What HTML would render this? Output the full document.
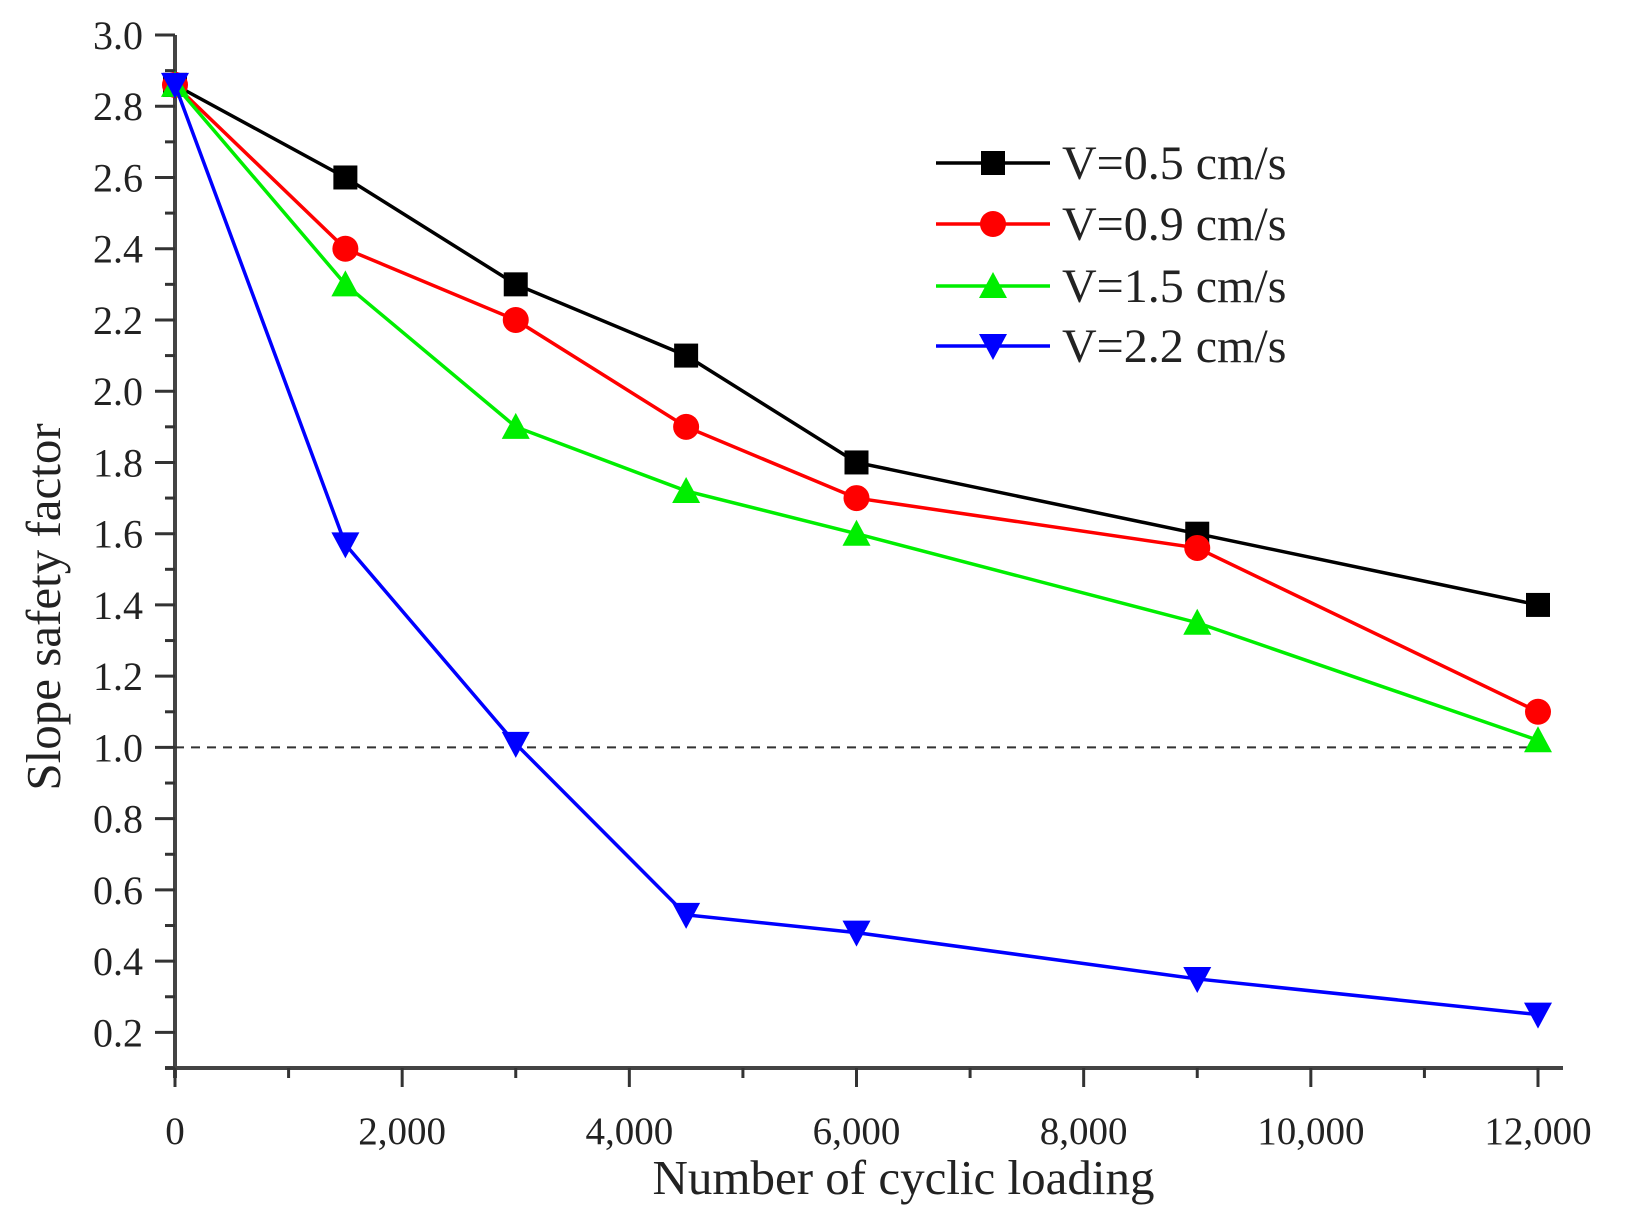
<!DOCTYPE html>
<html><head><meta charset="utf-8"><style>
html,body{margin:0;padding:0;background:#fff;}
svg text{font-family:"Liberation Serif",serif;fill:#222;}
</style></head><body>
<svg id="chart" width="1628" height="1227" viewBox="0 0 1628 1227" xmlns="http://www.w3.org/2000/svg">
<g id="grid"></g>
<g id="axes"></g>
<g id="series"></g>
<g id="legend"></g>
</svg>
<script>
const xValues = [0, 1500, 3000, 4500, 6000, 9000, 12000];
const seriesNames = ["V=0.5 cm/s", "V=0.9 cm/s", "V=1.5 cm/s", "V=2.2 cm/s"];
const v05 = [2.86, 2.6, 2.3, 2.1, 1.8, 1.6, 1.4];
const v09 = [2.86, 2.4, 2.2, 1.9, 1.7, 1.56, 1.1];
const v15 = [2.86, 2.3, 1.9, 1.72, 1.6, 1.35, 1.02];
const v22 = [2.86, 1.57, 1.01, 0.53, 0.48, 0.35, 0.25];
const yTickLabels = ["0.2","0.4","0.6","0.8","1.0","1.2","1.4","1.6","1.8","2.0","2.2","2.4","2.6","2.8","3.0"];
const xTickLabels = ["0","2,000","4,000","6,000","8,000","10,000","12,000"];
const referenceLevel = 1.0;

const NS="http://www.w3.org/2000/svg";
const X0=175, XPER=(1538-175)/12000, YTOP=35, YPER=(1068-35)/2.9;
function xs(v){return X0+v*XPER;}
function ys(v){return YTOP+(3.0-v)*YPER;}
function mk(tag,attrs,parent){const e=document.createElementNS(NS,tag);for(const k in attrs)e.setAttribute(k,attrs[k]);parent.appendChild(e);return e;}
const axes=document.getElementById('axes'), ser=document.getElementById('series'), leg=document.getElementById('legend');

let a=mk('line',{x1:X0,y1:YTOP,x2:X0,y2:1078,stroke:'#444','stroke-width':4},axes);


a=mk('line',{x1:X0-10,y1:1068,x2:1563,y2:1068,stroke:'#444','stroke-width':4},axes);



for(let i=0;i<yTickLabels.length;i++){
  const v=parseFloat(yTickLabels[i]), y=ys(v);
  let t=mk('line',{x1:X0-20,y1:y,x2:X0,y2:y,stroke:'#333','stroke-width':3},axes);
  
  
  let m=mk('line',{x1:X0-10,y1:ys(v-0.1),x2:X0,y2:ys(v-0.1),stroke:'#333','stroke-width':3},axes);
  
  
  let l=mk('text',{x:143,y:y+14,'text-anchor':'end','font-size':40},axes);
  l.textContent=yTickLabels[i];
  
  
}
for(let i=0;i<xTickLabels.length;i++){
  const v=i*2000, x=xs(v);
  let t=mk('line',{x1:x,y1:1068,x2:x,y2:1087,stroke:'#333','stroke-width':3},axes);
  
  
  let m=mk('line',{x1:xs(v+1000),y1:1068,x2:xs(v+1000),y2:1078,stroke:'#333','stroke-width':3},axes);
  
  
  let l=mk('text',{x:x,y:1144,'text-anchor':'middle','font-size':39},axes);
  l.textContent=xTickLabels[i];
  
  
}
let xt=mk('text',{x:xs(6000)+47,y:1194,'text-anchor':'middle','font-size':49},axes);
xt.textContent="Number of cyclic loading";


let yt=mk('text',{x:0,y:0,'text-anchor':'middle','font-size':49,transform:'translate(60,607) rotate(-90)'},axes);
yt.textContent="Slope safety factor";



let d=mk('line',{x1:X0,y1:ys(referenceLevel),x2:1538,y2:ys(referenceLevel),stroke:'#333','stroke-width':2,'stroke-dasharray':'9,7'},ser);



const allSeries=[v05,v09,v15,v22];
const colors=['#000','#ff0000','#00ee00','#0000ff'];
const shapes=['square','circle','up','down'];
const keys=['v05','v09','v15','v22'];
function marker(shape,cx,cy,color,parent){
  const s=12;
  if(shape==='square') return mk('rect',{x:cx-s,y:cy-s,width:2*s,height:2*s,fill:color},parent);
  if(shape==='circle') return mk('circle',{cx:cx,cy:cy,r:s+1,fill:color},parent);
  if(shape==='up') return mk('polygon',{points:`${cx},${cy-s-2} ${cx+s+2},${cy+s} ${cx-s-2},${cy+s}`,fill:color},parent);
  return mk('polygon',{points:`${cx-s-2},${cy-s} ${cx+s+2},${cy-s} ${cx},${cy+s+2}`,fill:color},parent);
}
for(let k=0;k<allSeries.length;k++){
  const vals=allSeries[k];
  const g=mk('g',{},ser);
  
  
  const pts=vals.map((v,i)=>xs(xValues[i])+','+ys(v)).join(' ');
  let p=mk('polyline',{points:pts,fill:'none',stroke:colors[k],'stroke-width':3.5},g);
  
  
  for(let i=0;i<vals.length;i++){
    let m=marker(shapes[k],xs(xValues[i]),ys(vals[i]),colors[k],g);
    
    
  }
}
const legY=[163,224,286,346];
for(let k=0;k<seriesNames.length;k++){
  const g=mk('g',{},leg);
  
  
  let l=mk('line',{x1:936,y1:legY[k],x2:1050,y2:legY[k],stroke:colors[k],'stroke-width':3.5},g);
  
  
  let m=marker(shapes[k],993,legY[k],colors[k],g);
  
  
  let t=mk('text',{x:1062,y:legY[k]+16,'font-size':48},g);
  t.textContent=seriesNames[k];
  
  
}
</script>
</body></html>
